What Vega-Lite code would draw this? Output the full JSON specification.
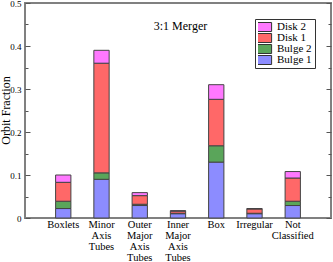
{
  "$schema": "https://vega.github.io/schema/vega-lite/v6.json",
  "width": 306,
  "height": 215,
  "autosize": {"type": "none"},
  "padding": {"left": 25, "top": 3, "right": 2, "bottom": 44},
  "background": "white",
  "config": {
    "view": {"stroke": "#808080", "strokeWidth": 2},
    "axis": {"labelFont": "Liberation Serif", "titleFont": "Liberation Serif", "labelColor": "black", "titleColor": "black", "domain": false, "grid": false}
  },
  "data": {"values": [
    {"category": "Boxlets", "series": "Bulge 1", "value": 0.022},
    {"category": "Boxlets", "series": "Bulge 2", "value": 0.017},
    {"category": "Boxlets", "series": "Disk 1", "value": 0.044},
    {"category": "Boxlets", "series": "Disk 2", "value": 0.017},
    {"category": "Minor Axis Tubes", "series": "Bulge 1", "value": 0.09},
    {"category": "Minor Axis Tubes", "series": "Bulge 2", "value": 0.015},
    {"category": "Minor Axis Tubes", "series": "Disk 1", "value": 0.255},
    {"category": "Minor Axis Tubes", "series": "Disk 2", "value": 0.03},
    {"category": "Outer Major Axis Tubes", "series": "Bulge 1", "value": 0.029},
    {"category": "Outer Major Axis Tubes", "series": "Bulge 2", "value": 0.003},
    {"category": "Outer Major Axis Tubes", "series": "Disk 1", "value": 0.02},
    {"category": "Outer Major Axis Tubes", "series": "Disk 2", "value": 0.007},
    {"category": "Inner Major Axis Tubes", "series": "Bulge 1", "value": 0.01},
    {"category": "Inner Major Axis Tubes", "series": "Bulge 2", "value": 0.001},
    {"category": "Inner Major Axis Tubes", "series": "Disk 1", "value": 0.005},
    {"category": "Inner Major Axis Tubes", "series": "Disk 2", "value": 0.001},
    {"category": "Box", "series": "Bulge 1", "value": 0.13},
    {"category": "Box", "series": "Bulge 2", "value": 0.038},
    {"category": "Box", "series": "Disk 1", "value": 0.108},
    {"category": "Box", "series": "Disk 2", "value": 0.034},
    {"category": "Irregular", "series": "Bulge 1", "value": 0.01},
    {"category": "Irregular", "series": "Bulge 2", "value": 0.001},
    {"category": "Irregular", "series": "Disk 1", "value": 0.01},
    {"category": "Irregular", "series": "Disk 2", "value": 0.001},
    {"category": "Not Classified", "series": "Bulge 1", "value": 0.029},
    {"category": "Not Classified", "series": "Bulge 2", "value": 0.01},
    {"category": "Not Classified", "series": "Disk 1", "value": 0.054},
    {"category": "Not Classified", "series": "Disk 2", "value": 0.015}
  ]},
  "layer": [
    {
      "mark": {"type": "bar", "stroke": "#444", "strokeWidth": 1},
      "encoding": {
        "x": {"field": "category", "type": "nominal", "sort": null,
          "scale": {"paddingInner": 0.6, "paddingOuter": 0.8},
          "axis": {"orient": "bottom", "title": null, "labelAngle": 0, "ticks": false, "labelFontSize": 10.5, "labelLineHeight": 10.9, "labelPadding": 1.5, "labelBaseline": "top", "labelExpr": "split(datum.label, ' ')"}},
        "y": {"field": "value", "type": "quantitative", "stack": "zero",
          "scale": {"domain": [0, 0.5], "nice": false},
          "axis": {"orient": "left", "title": "Orbit Fraction", "titleFontSize": 12, "titleFontWeight": "normal",
            "titleX": -13, "titleY": 107, "titleAngle": -90, "titleAlign": "center", "titleBaseline": "bottom",
            "values": [0, 0.05, 0.1, 0.15, 0.2, 0.25, 0.3, 0.35, 0.4, 0.45, 0.5],
            "labelExpr": "round(datum.value*20)%2==0 ? format(datum.value, '.1~f') : ''",
            "labelFontSize": 9, "labelPadding": 9,
            "tickColor": "#555",
            "tickSize": {"condition": {"test": "round(datum.value*20)%2==0", "value": -5}, "value": -3}}},
        "order": {"field": "series", "sort": "ascending"},
        "color": {"field": "series", "type": "nominal",
          "scale": {"domain": ["Disk 2", "Disk 1", "Bulge 2", "Bulge 1"], "range": ["#ff78ff", "#ff6868", "#5aa55a", "#8c8cff"]},
          "legend": {"title": null, "orient": "none", "legendX": 230, "legendY": 16, "labelFont": "Liberation Serif", "labelFontSize": 11, "labelColor": "black",
            "symbolType": "M-1.8,-1H1.8V1H-1.8Z", "symbolSize": 81, "symbolStrokeColor": "#333", "symbolStrokeWidth": 1, "symbolOpacity": 1,
            "clipHeight": 10, "rowPadding": 0, "labelOffset": 8, "padding": 3, "strokeColor": "#333", "fillColor": "white"}}
      }
    },
    {
      "mark": {"type": "bar", "opacity": 0},
      "encoding": {
        "x": {"field": "category", "type": "nominal", "sort": null,
          "scale": {"paddingInner": 0.6, "paddingOuter": 0.8},
          "axis": {"orient": "top", "labels": false, "ticks": false, "title": "3:1 Merger",
            "titleFontSize": 12, "titleFontWeight": "normal", "titleX": 155, "titleY": 22, "titleAlign": "center", "titleBaseline": "middle"}},
        "y": {"field": "value", "type": "quantitative", "stack": "zero",
          "scale": {"domain": [0, 0.5], "nice": false},
          "axis": {"orient": "right", "title": null, "labels": false,
            "values": [0, 0.05, 0.1, 0.15, 0.2, 0.25, 0.3, 0.35, 0.4, 0.45, 0.5],
            "tickColor": "#555",
            "tickSize": {"condition": {"test": "round(datum.value*20)%2==0", "value": -5}, "value": -3}}},
        "order": {"field": "series", "sort": "ascending"}
      }
    }
  ],
  "resolve": {"axis": {"y": "independent", "x": "independent"}}
}
